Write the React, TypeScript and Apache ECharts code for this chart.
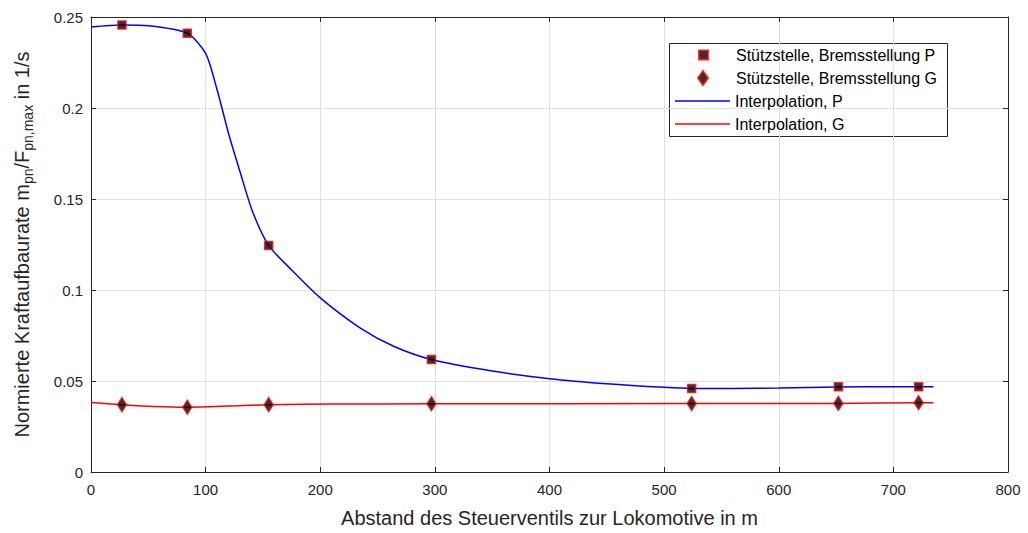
import React, { useEffect, useRef } from "react";
import * as echarts from "echarts";

// Stützstellen (support points)
const pointX = [27, 84, 155, 297, 524, 652, 722];
const pointP = [0.2456, 0.2411, 0.1245, 0.0618, 0.0459, 0.0468, 0.0468];
const pointG = [0.037, 0.0356, 0.037, 0.0375, 0.0376, 0.0377, 0.0381];

// Interpolation curves
const curvePX = [0, 27, 50, 84, 100, 110, 120, 130, 141, 155, 175, 200, 235, 264, 297, 350, 400, 450, 500, 524, 560, 600, 652, 700, 735];
const curvePY = [0.2445, 0.2456, 0.2452, 0.2411, 0.23, 0.21, 0.186, 0.165, 0.143, 0.1245, 0.111, 0.0957, 0.0791, 0.0691, 0.0618, 0.0555, 0.0513, 0.0485, 0.0465, 0.0459, 0.0459, 0.0462, 0.0467, 0.0468, 0.0468];
const curveGX = [0, 27, 55, 84, 120, 155, 213, 297, 524, 652, 722, 735];
const curveGY = [0.0382, 0.037, 0.036, 0.0356, 0.0362, 0.037, 0.0373, 0.0375, 0.0376, 0.0377, 0.0381, 0.0381];

const legendNames = [
  "Stützstelle, Bremsstellung P",
  "Stützstelle, Bremsstellung G",
  "Interpolation, P",
  "Interpolation, G",
];

const xTitle = "Abstand des Steuerventils zur Lokomotive in m";
const yTitle = "Normierte Kraftaufbaurate m{sub|pn}/F{sub|pn,max} in 1/s";

const FONT = "Liberation Sans, Arial, Helvetica, sans-serif";
const AX = "#262626";

export default function App() {
  const ref = useRef<HTMLDivElement>(null);
  useEffect(() => {
    const chart = echarts.init(ref.current!, null, { renderer: "svg" });
    const zip = (xs: number[], ys: number[]) => xs.map((x, i) => [x, ys[i]]);
    const rowCenters = [55, 78, 101, 124];
    const textStyle = {
      fontFamily: FONT,
      fontSize: 16,
      color: "#000",
      lineHeight: 18,
      rich: { s: { width: 23, fontSize: 16, lineHeight: 18 } },
    };
    const legendBase = (row: number, left: number, w: number, h: number) => ({
      left,
      top: rowCenters[row] - 9,
      padding: 0,
      itemWidth: w,
      itemHeight: h,
      itemGap: 0,
      orient: "vertical",
      selectedMode: false,
      textStyle,
    });
    chart.setOption({
      animation: false,
      backgroundColor: "#fff",
      textStyle: { fontFamily: FONT },
      grid: { left: 91, right: 20, top: 17, bottom: 55, containLabel: false },
      xAxis: [
        {
          type: "value",
          min: 0,
          max: 800,
          interval: 100,
          name: xTitle,
          nameLocation: "middle",
          nameGap: 36,
          nameTextStyle: { fontFamily: FONT, fontSize: 20, color: AX },
          axisLine: { show: true, lineStyle: { color: AX, width: 1 } },
          axisTick: { show: true, inside: true, length: 5, lineStyle: { color: AX } },
          axisLabel: { fontFamily: FONT, fontSize: 15, color: AX, margin: 10 },
          splitLine: { show: true, lineStyle: { color: "#dfdfdf", width: 1 } },
        },
        {
          type: "value",
          position: "top",
          min: 0,
          max: 800,
          interval: 100,
          axisLine: { show: true, onZero: false, lineStyle: { color: AX, width: 1 } },
          axisTick: { show: true, inside: true, length: 5, lineStyle: { color: AX } },
          axisLabel: { show: false },
          splitLine: { show: false },
        },
      ],
      yAxis: [
        {
          type: "value",
          min: 0,
          max: 0.25,
          interval: 0.05,
          name: yTitle,
          nameLocation: "middle",
          nameRotate: 90,
          nameGap: 57,
          nameTextStyle: {
            fontFamily: FONT,
            fontSize: 20,
            color: AX,
            lineHeight: 24,
            rich: {
              sub: { fontFamily: FONT, fontSize: 14, color: AX, padding: [11, 0, 0, 0] },
            },
          },
          axisLine: { show: true, lineStyle: { color: AX, width: 1 } },
          axisTick: { show: true, inside: true, length: 5, lineStyle: { color: AX } },
          axisLabel: { fontFamily: FONT, fontSize: 15, color: AX, margin: 8 },
          splitLine: { show: true, lineStyle: { color: "#dfdfdf", width: 1 } },
        },
        {
          type: "value",
          position: "right",
          min: 0,
          max: 0.25,
          interval: 0.05,
          axisLine: { show: true, onZero: false, lineStyle: { color: AX, width: 1 } },
          axisTick: { show: true, inside: true, length: 5, lineStyle: { color: AX } },
          axisLabel: { show: false },
          splitLine: { show: false },
        },
      ],
      legend: [
        {
          ...legendBase(0, 698, 9, 9),
          formatter: (n: string) => "{s|}" + n,
          data: [legendNames[0]],
        },
        {
          ...legendBase(1, 697, 10, 14),
          formatter: (n: string) => "{s|}" + n,
          data: [legendNames[1]],
        },
        { ...legendBase(2, 675, 55, 14), data: [{ name: legendNames[2], icon: "path://M0 0H55V1.5H0Z" }] },
        { ...legendBase(3, 675, 55, 14), data: [{ name: legendNames[3], icon: "path://M0 0H55V1.5H0Z" }] },
      ],
      graphic: [
        {
          type: "rect",
          z: -1,
          shape: { x: 669.5, y: 43.5, width: 278, height: 93 },
          style: { fill: "#fff", stroke: AX, lineWidth: 1 },
        },
      ],
      series: [
        {
          name: legendNames[2],
          type: "line",
          data: zip(curvePX, curvePY),
          symbol: "none",
          smooth: 0.25,
          lineStyle: { color: "#0000ff", width: 1.5 },
          itemStyle: { color: "#0000ff" },
          z: 2,
        },
        {
          name: legendNames[3],
          type: "line",
          data: zip(curveGX, curveGY),
          symbol: "none",
          smooth: 0.25,
          lineStyle: { color: "#ff0000", width: 1.5 },
          itemStyle: { color: "#ff0000" },
          z: 2,
        },
        {
          name: legendNames[0],
          type: "scatter",
          data: zip(pointX, pointP),
          symbol: "rect",
          symbolSize: 8,
          itemStyle: { color: "#000", borderColor: "#ff0000", borderWidth: 1.5 },
          z: 3,
        },
        {
          name: legendNames[1],
          type: "scatter",
          data: zip(pointX, pointG),
          symbol: "diamond",
          symbolSize: [9, 14],
          itemStyle: { color: "#000", borderColor: "#ff0000", borderWidth: 1.5 },
          z: 3,
        },
      ],
    });
    return () => chart.dispose();
  }, []);
  return (
    <div
      ref={ref}
      style={{ position: "fixed", left: 0, top: 0, width: 1028, height: 533 }}
    />
  );
}
